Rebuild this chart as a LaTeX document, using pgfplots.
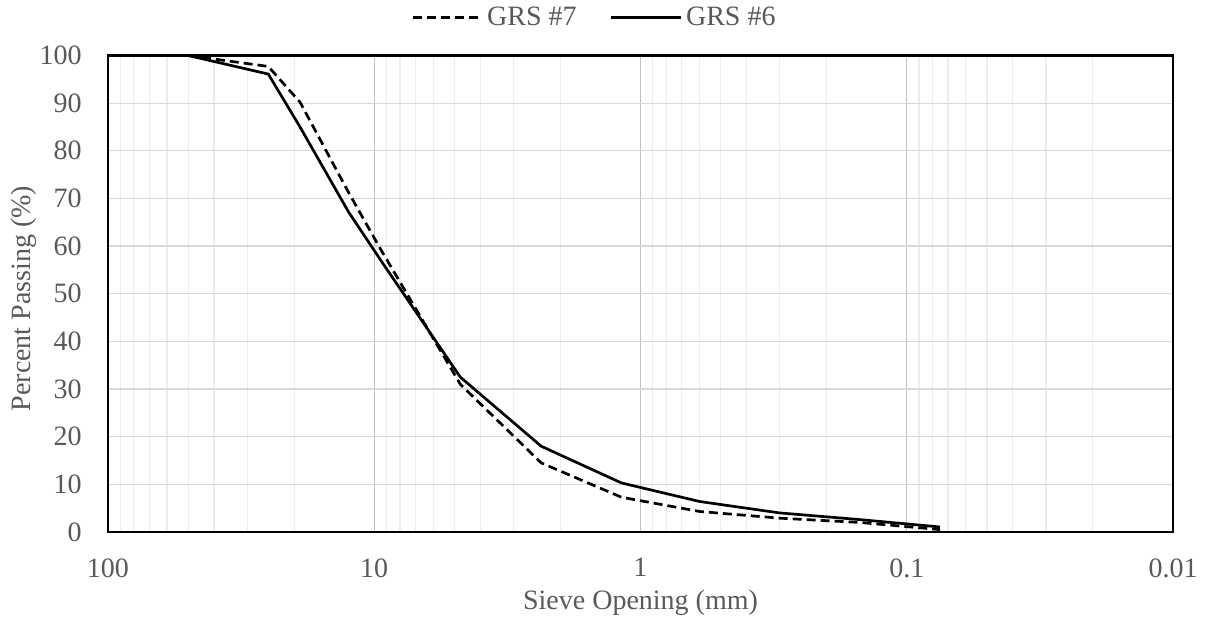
\documentclass[border=0pt]{standalone}
\usepackage{fontspec}
\setmainfont{Liberation Serif}
\usepackage{pgfplots}
\pgfplotsset{compat=1.18}

\definecolor{txt}{HTML}{595959}
\definecolor{gmaj}{HTML}{D9D9D9}
\definecolor{gvert}{HTML}{C0C0C0}
\definecolor{gmin}{HTML}{EDEDED}

\begin{document}
\begin{tikzpicture}[font=\fontsize{14}{17}\selectfont]
\begin{axis}[
  scale only axis, width=532.5pt, height=238.25pt,
  xmode=log, x dir=reverse, xmin=0.01, xmax=100,
  ymin=0, ymax=100, ytick={0,10,...,100},
  xtick={0.01,0.1,1,10,100}, xticklabels={0.01,0.1,1,10,100},
  minor xtick={0.02,0.03,0.04,0.05,0.06,0.07,0.08,0.09,0.2,0.3,0.4,0.5,0.6,0.7,0.8,0.9,2,3,4,5,6,7,8,9,20,30,40,50,60,70,80,90},
  major tick length=0pt, minor tick length=0pt,
  xmajorgrids, xminorgrids, ymajorgrids,
  major x grid style={gvert, line width=0.6pt},
  minor x grid style={gmin, line width=0.6pt},
  major y grid style={gmaj, line width=0.6pt},
  axis line style={black, line width=1.3pt},
  /pgf/number format/assume math mode=true,
  ticklabel style={text=txt},
  yticklabel style={inner sep=0pt, anchor=east, xshift=-13pt},
  xticklabel style={inner sep=0pt, anchor=north, yshift=-13pt},
  xlabel={Sieve Opening (mm)}, ylabel={Percent Passing (\%)},
  label style={text=txt},
  xlabel style={at={(axis description cs:0.5,0)}, anchor=base, yshift=-39pt},
  ylabel style={at={(axis description cs:-0.0795,0.49)}, anchor=center},
  legend columns=2,
  legend style={at={(axis description cs:0.457,1.08)}, anchor=center, draw=none, fill=none,
    text=txt, inner sep=0pt, nodes={inner sep=1.5pt},
    /tikz/every even column/.append style={column sep=15pt}},
  legend image code/.code={\draw[#1, line width=1.7pt] (0pt,0pt) -- (35pt,0pt);},
]
\addplot[black, line width=1.35pt, dash pattern=on 4.5pt off 2.5pt] coordinates {
  (50,100) (25,97.7) (19,90.2) (12.5,71.3) (9.5,59.5) (4.75,31.0) (2.36,14.5)
  (1.18,7.3) (0.6,4.3) (0.3,2.9) (0.15,2.0) (0.075,0.5)};
\addlegendentry{GRS \#7}
\addplot[black, line width=1.35pt] coordinates {
  (50,100) (25,96.1) (19,85.0) (12.5,67.2) (9.5,57.2) (4.75,32.5) (2.36,18.0)
  (1.18,10.3) (0.6,6.4) (0.3,4.0) (0.15,2.6) (0.075,1.05)};
\addlegendentry{GRS \#6}
\end{axis}
\path (-54pt,-46.5pt) rectangle (549.5pt,266pt);
\end{tikzpicture}
\end{document}
